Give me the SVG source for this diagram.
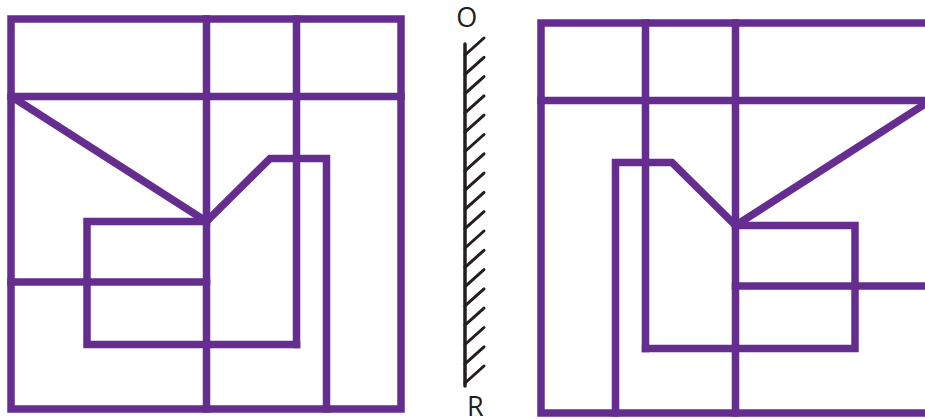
<svg xmlns="http://www.w3.org/2000/svg" width="925" height="419" viewBox="0 0 925 419">
  <style>
    .fig { fill: none; stroke: #662d91; stroke-width: 7.5; stroke-linejoin: miter; stroke-linecap: square; }
    .mirror { fill: none; stroke: #231f20; stroke-width: 3.5; stroke-linecap: round; }
    .hatch { fill: none; stroke: #231f20; stroke-width: 3; stroke-linecap: round; }
    .lbl { font-family: "Open Sans", "Liberation Sans", sans-serif; font-size: 27px; fill: #231f20; text-anchor: middle; }
  </style>
  <defs>
    <g id="figure" class="fig">
      <rect x="11" y="19" width="390" height="390"/>
      <line x1="11" y1="96.5" x2="401" y2="96.5"/>
      <line x1="206.5" y1="19" x2="206.5" y2="409"/>
      <line x1="296.5" y1="19" x2="296.5" y2="344.5"/>
      <line x1="13" y1="97.5" x2="206.5" y2="221.5"/>
      <polyline points="206.5,221.5 87,221.5 87,344.5 296.5,344.5"/>
      <line x1="11" y1="282" x2="206.5" y2="282"/>
      <polyline points="206.5,221.5 270,158.5 326.5,158.5 326.5,409"/>
    </g>
    <line id="tick" class="hatch" x1="465" y1="0" x2="484" y2="-17"/>
  </defs>

  <g id="object">
    <use href="#figure"/>
  </g>

  <g id="image">
    <use href="#figure" transform="translate(942,4) scale(-1,1)"/>
  </g>

  <g id="mirror-line">
    <line class="mirror" x1="465" y1="44" x2="465" y2="386"/>
    <use href="#tick" y="55"/>
    <use href="#tick" y="74.3"/>
    <use href="#tick" y="93.6"/>
    <use href="#tick" y="112.9"/>
    <use href="#tick" y="132.2"/>
    <use href="#tick" y="151.5"/>
    <use href="#tick" y="170.8"/>
    <use href="#tick" y="190.1"/>
    <use href="#tick" y="209.4"/>
    <use href="#tick" y="228.7"/>
    <use href="#tick" y="248"/>
    <use href="#tick" y="267.3"/>
    <use href="#tick" y="286.6"/>
    <use href="#tick" y="305.9"/>
    <use href="#tick" y="325.2"/>
    <use href="#tick" y="344.5"/>
    <use href="#tick" y="363.8"/>
    <use href="#tick" y="383"/>
    <text class="lbl" x="466.7" y="26.5">O</text>
    <text class="lbl" x="475.3" y="415.5">R</text>
  </g>
</svg>
